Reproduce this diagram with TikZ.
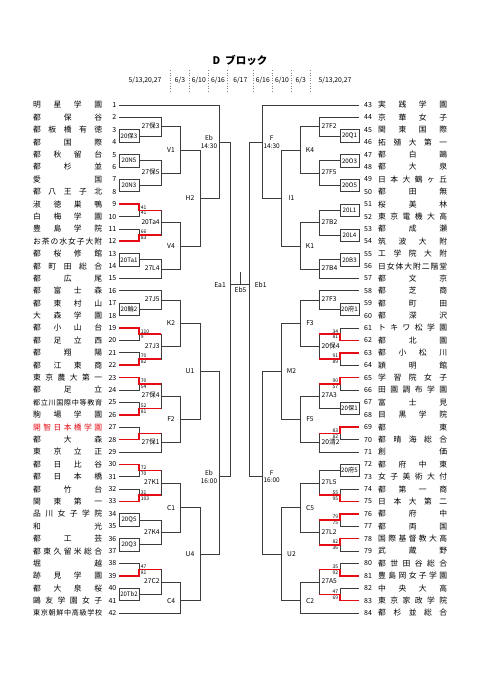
\documentclass[tikz,border=0pt]{standalone}
\usepackage{fontspec}
\usepackage{graphicx}
\setmainfont{Noto Sans CJK JP}
\definecolor{wred}{RGB}{230,12,20}
\definecolor{lgray}{RGB}{60,60,60}
\newcommand\Y[1]{105+(#1-1)*12.39}
\def\spr#1{\sprA#1\relax}
\def\sprA#1{#1\sprB}
\def\sprB#1{\ifx\relax#1\else\hfill#1\expandafter\sprB\fi}
\newsavebox\fitbox
\newcommand\fitw[2]{\sbox\fitbox{#2}\ifdim\wd\fitbox>#1\resizebox{#1}{\height}{\usebox\fitbox}\else\usebox\fitbox\fi}
\tikzset{
 ln/.style={draw=lgray, line width=0.8pt},
 win/.style={draw=wred, line width=1.6pt},
 num/.style={inner sep=0pt, font=\fontsize{7}{8}\selectfont},
 nm/.style={inner sep=0pt, font=\fontsize{7.8}{8}\selectfont},
 nsmall/.style={font=\fontsize{7.1}{8}\selectfont},
 fbox/.style={draw=lgray, line width=0.8pt, minimum width=20pt, minimum height=12.39pt, inner sep=0pt, font=\fontsize{6.2}{7}\selectfont},
 rbox/.style={fbox, minimum width=19pt},
 lab/.style={inner sep=0pt, font=\fontsize{6.7}{7}\selectfont},
 lab2/.style={inner sep=0pt, align=center, font=\fontsize{6.5}{7.8}\selectfont},
 sc/.style={inner sep=0pt, font=\fontsize{5}{5}\selectfont},
 dt/.style={inner sep=0pt, font=\fontsize{6.8}{7}\selectfont},
 sep/.style={draw=gray, dotted, line width=0.6pt},
}
\newcommand\teamL[3]{%
 \node[num, anchor=east] (nL#1) at (116.5,{\Y{#1}}) {#1};
 \node[nm, anchor=west, #3] (tL#1) at (33,{\Y{#1}}) {\hbox to 69pt{\spr{#2}}};
 \coordinate (L#1) at (119,{\Y{#1}});}
\newcommand\teamR[4]{%
 \node[num, anchor=west] (nR#2) at (364,{\Y{#1}}) {#2};
 \node[nm, anchor=west, #4] (tR#2) at (378,{\Y{#1}}) {\hbox to 69pt{\spr{#3}}};
 \coordinate (R#2) at (359,{\Y{#1}});}
\newcommand\scL[4]{%
 \coordinate (#1) at (139,{\Y{#2}});
 \node[sc, anchor=south west] (#1a) at (140.6,{\Y{#2}-0.9}) {#3};
 \node[sc, anchor=north west] (#1b) at (140.6,{\Y{#2}+0.9}) {#4};}
\newcommand\scR[4]{%
 \coordinate (#1) at (340,{\Y{#2}});
 \node[sc, anchor=south east] (#1a) at (338.4,{\Y{#2}-0.9}) {#3};
 \node[sc, anchor=north east] (#1b) at (338.4,{\Y{#2}+0.9}) {#4};}
\newcommand\mt[5]{%
 \coordinate (#1) at (#2,{\Y{#3}});
 \node[lab] (#1t) at (#5,{\Y{#3}}) {#4};}
% second-round matches: label hugging the vertical line
\newcommand\mtL[3]{%
 \coordinate (#1) at (161,{\Y{#2}});
 \node[lab, anchor=east] (#1t) at (159.8,{\Y{#2}-0.8}) {\fitw{18pt}{#3}};}
\newcommand\mtR[3]{%
 \coordinate (#1) at (319.3,{\Y{#2}});
 \node[lab, anchor=west] (#1t) at (321.5,{\Y{#2}-0.8}) {\fitw{18pt}{#3}};}
\newcommand\bxL[3]{\node[fbox] (#1) at (129,{\Y{#2}}) {\fitw{17.5pt}{#3}};}
\newcommand\bxR[3]{\node[rbox] (#1) at (349.5,{\Y{#2}}) {\fitw{17pt}{#3}};}
\newcommand\jn[3]{\draw[ln] (#1) -| (#3); \draw[ln] (#2) -| (#3);}

\begin{document}
\begin{tikzpicture}[x=1pt,y=-1pt]
\useasboundingbox (0,0) rectangle (481,680);
\fill[white] (0,0) rectangle (481,680);

% header
\node[inner sep=0pt, font=\fontsize{10.5}{11}\selectfont\bfseries] (title) at (240,60) {D\hspace{5pt}ブロック};
\node[dt] (d1) at (145,80) {5/13,20,27};
\node[dt] (d2) at (180,80) {6/3};
\node[dt] (d3) at (198.8,80) {6/10};
\node[dt] (d4) at (218,80) {6/16};
\node[dt] (d5) at (240.3,80) {6/17};
\node[dt] (d6) at (262.8,80) {6/16};
\node[dt] (d7) at (282,80) {6/10};
\node[dt] (d8) at (300.7,80) {6/3};
\node[dt] (d9) at (335,80) {5/13,20,27};
\foreach \sx in {170.7,189.3,208.3,227.7,253,272.7,291.3,310}
  \draw[sep] (\sx,70) -- (\sx,93);

% left teams
\teamL{1}{明星学園}{}
\teamL{2}{都保谷}{}
\teamL{3}{都板橋有徳}{}
\teamL{4}{都国際}{}
\teamL{5}{都秋留台}{}
\teamL{6}{都杉並}{}
\teamL{7}{愛国}{}
\teamL{8}{都八王子北}{}
\teamL{9}{淑徳巣鴨}{}
\teamL{10}{白梅学園}{}
\teamL{11}{豊島学院}{}
\teamL{12}{お茶の水女子大附}{}
\teamL{13}{都桜修館}{}
\teamL{14}{都町田総合}{}
\teamL{15}{都広尾}{}
\teamL{16}{都富士森}{}
\teamL{17}{都東村山}{}
\teamL{18}{大森学園}{}
\teamL{19}{都小山台}{}
\teamL{20}{都足立西}{}
\teamL{21}{都翔陽}{}
\teamL{22}{都江東商}{}
\teamL{23}{東京農大第一}{}
\teamL{24}{都足立}{}
\teamL{25}{都立川国際中等教育}{nsmall}
\teamL{26}{駒場学園}{}
\teamL{27}{開智日本橋学園}{text=wred}
\teamL{28}{都大森}{}
\teamL{29}{東京立正}{}
\teamL{30}{都日比谷}{}
\teamL{31}{都日本橋}{}
\teamL{32}{都竹台}{}
\teamL{33}{関東第一}{}
\teamL{34}{品川女子学院}{}
\teamL{35}{和光}{}
\teamL{36}{都工芸}{}
\teamL{37}{都東久留米総合}{}
\teamL{38}{堀越}{}
\teamL{39}{跡見学園}{}
\teamL{40}{都大泉桜}{}
\teamL{41}{鷗友学園女子}{}
\teamL{42}{東京朝鮮中高級学校}{nsmall}

% right teams
\teamR{1}{43}{実践学園}{}
\teamR{2}{44}{京華女子}{}
\teamR{3}{45}{関東国際}{}
\teamR{4}{46}{拓殖大第一}{}
\teamR{5}{47}{都白鷗}{}
\teamR{6}{48}{都大泉}{}
\teamR{7}{49}{日本大鶴ヶ丘}{}
\teamR{8}{50}{都田無}{}
\teamR{9}{51}{桜美林}{}
\teamR{10}{52}{東京電機大高}{}
\teamR{11}{53}{都成瀬}{}
\teamR{12}{54}{筑波大附}{}
\teamR{13}{55}{工学院大附}{}
\teamR{14}{56}{日女体大附二階堂}{}
\teamR{15}{57}{都文京}{}
\teamR{16}{58}{都芝商}{}
\teamR{17}{59}{都町田}{}
\teamR{18}{60}{都深沢}{}
\teamR{19}{61}{トキワ松学園}{}
\teamR{20}{62}{都北園}{}
\teamR{21}{63}{都小松川}{}
\teamR{22}{64}{穎明館}{}
\teamR{23}{65}{学習院女子}{}
\teamR{24}{66}{田園調布学園}{}
\teamR{25}{67}{富士見}{}
\teamR{26}{68}{目黒学院}{}
\teamR{27}{69}{都東}{}
\teamR{28}{70}{都晴海総合}{}
\teamR{29}{71}{創価}{}
\teamR{30}{72}{都府中東}{}
\teamR{31}{73}{女子美術大付}{}
\teamR{32}{74}{都第一商}{}
\teamR{33}{75}{日本大第二}{}
\teamR{34}{76}{都府中}{}
\teamR{35}{77}{都両国}{}
\teamR{36}{78}{国際基督教大高}{}
\teamR{37}{79}{武蔵野}{}
\teamR{38}{80}{都世田谷総合}{}
\teamR{39}{81}{豊島岡女子学園}{}
\teamR{40}{82}{中央大高}{}
\teamR{41}{83}{東京家政学院}{}
\teamR{42}{84}{都杉並総合}{}

% left first round
\bxL{lb3}{3.5}{20保3}
\bxL{lb5}{5.5}{20N5}
\bxL{lb7}{7.5}{20N3}
\bxL{lb13}{13.5}{20Ta1}
\bxL{lb17}{17.5}{20輪2}
\bxL{lb34}{34.5}{20Q5}
\bxL{lb36}{36.5}{20Q3}
\bxL{lb40}{40.5}{20Tb2}
\scL{ls9}{9.5}{41}{41}
\scL{ls11}{11.5}{66}{83}
\scL{ls19}{19.5}{110}{9}
\scL{ls21}{21.5}{70}{82}
\scL{ls23}{23.5}{70}{54}
\scL{ls25}{25.5}{52}{81}
\coordinate (ls27) at (139,{\Y{27.5}});
\scL{ls30}{30.5}{72}{70}
\scL{ls32}{32.5}{31}{103}
\scL{ls38}{38.5}{47}{81}
\jn{L9}{L10}{ls9} \jn{L11}{L12}{ls11} \jn{L19}{L20}{ls19} \jn{L21}{L22}{ls21}
\jn{L23}{L24}{ls23} \jn{L25}{L26}{ls25} \jn{L27}{L28}{ls27} \jn{L30}{L31}{ls30}
\jn{L32}{L33}{ls32} \jn{L38}{L39}{ls38}

% left second round
\mtL{lm1}{2.75}{27保3}
\mtL{lm2}{6.5}{27保5}
\mtL{lm3}{10.5}{20Ta4}
\mtL{lm4}{14.25}{27L4}
\mtL{lm5}{16.75}{27J5}
\mtL{lm6}{20.5}{27J3}
\mtL{lm7}{24.5}{27保4}
\mtL{lm8}{28.25}{27保1}
\mtL{lm9}{31.5}{27K1}
\mtL{lm10}{35.5}{27K4}
\mtL{lm11}{39.5}{27C2}
\jn{L2}{lb3.east}{lm1} \jn{lb5.east}{lb7.east}{lm2} \jn{ls9}{ls11}{lm3}
\jn{lb13.east}{L15}{lm4} \jn{L16}{lb17.east}{lm5} \jn{ls19}{ls21}{lm6}
\jn{ls23}{ls25}{lm7} \jn{ls27}{L29}{lm8} \jn{ls30}{ls32}{lm9}
\jn{lb34.east}{lb36.east}{lm10} \jn{ls38}{lb40.east}{lm11}

% left third round
\mt{LV1}{180}{4.625}{V1}{171}
\mt{LV4}{180}{12.375}{V4}{171}
\mt{LK2}{180}{18.625}{K2}{171}
\mt{LF2}{180}{26.375}{F2}{171}
\mt{LC1}{180}{33.5}{C1}{171}
\mt{LC4}{180}{41}{C4}{171}
\jn{lm1}{lm2}{LV1} \jn{lm3}{lm4}{LV4} \jn{lm5}{lm6}{LK2}
\jn{lm7}{lm8}{LF2} \jn{lm9}{lm10}{LC1} \jn{lm11}{L42}{LC4}

% left fourth round
\mt{LH2}{200}{8.5}{H2}{190}
\mt{LU1}{200}{22.5}{U1}{190}
\mt{LU4}{200}{37.25}{U4}{190}
\jn{LV1}{LV4}{LH2} \jn{LK2}{LF2}{LU1} \jn{LC1}{LC4}{LU4}

% left fifth round
\coordinate (LEbA) at (219,{\Y{4}});
\node[lab2] (LEbAt) at (209,{\Y{4}}) {Eb\\14:30};
\coordinate (LEbB) at (219,{\Y{31}});
\node[lab2] (LEbBt) at (209,{\Y{31}}) {Eb\\16:00};
\jn{L1}{LH2}{LEbA} \jn{LU1}{LU4}{LEbB}

% right first round
\bxR{rb45}{3.5}{20Q1}
\bxR{rb47}{5.5}{20O3}
\bxR{rb49}{7.5}{20O5}
\bxR{rb51}{9.5}{20L1}
\bxR{rb53}{11.5}{20L4}
\bxR{rb55}{13.5}{20B3}
\bxR{rb59}{17.5}{20府1}
\bxR{rb67}{25.5}{20保1}
\bxR{rb72}{30.5}{20府5}
\scR{rs61}{19.5}{34}{81}
\scR{rs63}{21.5}{91}{89}
\scR{rs65}{23.5}{90}{57}
\scR{rs69}{27.5}{83}{82}
\scR{rs74}{32.5}{55}{95}
\scR{rs76}{34.5}{79}{75}
\scR{rs78}{36.5}{82}{36}
\scR{rs80}{38.5}{35}{92}
\scR{rs82}{40.5}{47}{69}
\jn{R61}{R62}{rs61} \jn{R63}{R64}{rs63} \jn{R65}{R66}{rs65} \jn{R69}{R70}{rs69}
\jn{R74}{R75}{rs74} \jn{R76}{R77}{rs76} \jn{R78}{R79}{rs78} \jn{R80}{R81}{rs80}
\jn{R82}{R83}{rs82}

% right second round
\mtR{rm1}{2.75}{27F2}
\mtR{rm2}{6.5}{27F5}
\mtR{rm3}{10.5}{27B2}
\mtR{rm4}{14.25}{27B4}
\mtR{rm5}{16.75}{27F3}
\mtR{rm6}{20.5}{20保4}
\mtR{rm7}{24.5}{27A3}
\mtR{rm8}{28.25}{20清2}
\mtR{rm9}{31.5}{27L5}
\mtR{rm10}{35.5}{27L2}
\mtR{rm11}{39.5}{27A5}
\jn{R44}{rb45.west}{rm1} \jn{rb47.west}{rb49.west}{rm2} \jn{rb51.west}{rb53.west}{rm3}
\jn{rb55.west}{R57}{rm4} \jn{R58}{rb59.west}{rm5} \jn{rs61}{rs63}{rm6}
\jn{rs65}{rb67.west}{rm7} \jn{rs69}{R71}{rm8} \jn{rb72.west}{rs74}{rm9}
\jn{rs76}{rs78}{rm10} \jn{rs80}{rs82}{rm11}

% right third round
\mt{RK4}{300}{4.625}{K4}{310}
\mt{RK1}{300}{12.375}{K1}{310}
\mt{RF3}{300}{18.625}{F3}{310}
\mt{RF5}{300}{26.375}{F5}{310}
\mt{RC5}{300}{33.5}{C5}{310}
\mt{RC2}{300}{41}{C2}{310}
\jn{rm1}{rm2}{RK4} \jn{rm3}{rm4}{RK1} \jn{rm5}{rm6}{RF3}
\jn{rm7}{rm8}{RF5} \jn{rm9}{rm10}{RC5} \jn{rm11}{R84}{RC2}

% right fourth round
\mt{RI1}{281.7}{8.5}{I1}{291.5}
\mt{RM2}{281.7}{22.5}{M2}{291.5}
\mt{RU2}{281.7}{37.25}{U2}{291.5}
\jn{RK4}{RK1}{RI1} \jn{RF3}{RF5}{RM2} \jn{RC5}{RC2}{RU2}

% right fifth round
\coordinate (RFA) at (262.3,{\Y{4}});
\node[lab2] (RFAt) at (271.7,{\Y{4}}) {F\\14:30};
\coordinate (RFB) at (262.3,{\Y{31}});
\node[lab2] (RFBt) at (271.7,{\Y{31}}) {F\\16:00};
\jn{R43}{RI1}{RFA} \jn{RM2}{RU2}{RFB}

% centre
\mt{Ea1}{230.7}{15.5}{Ea1}{220}
\mt{Eb1}{249.3}{15.5}{Eb1}{260.7}
\coordinate (Fin) at (240,{\Y{15.5}});
\coordinate (FinTop) at (240,{\Y{14.5}});
\node[lab, anchor=north] (Eb5t) at (240.5,{\Y{15.5}+2.2}) {Eb5};
\jn{LEbA}{LEbB}{Ea1} \jn{RFA}{RFB}{Eb1}
\draw[ln] (Ea1) -- (Fin) -- (Eb1);
\draw[ln] (Fin) -- (FinTop);

% winners (red)
\draw[win] (L9) -| (ls9) -- (ls9 -| lm3);
\draw[win] (L12) -| (ls11) -- (ls11 -| lm3);
\draw[win] (L19) -| (ls19) -- (ls19 -| lm6);
\draw[win] (L22) -| (ls21) -- (ls21 -| lm6);
\draw[win] (L23) -| (ls23) -- (ls23 -| lm7);
\draw[win] (L26) -| (ls25) -- (ls25 -| lm7);
\draw[win] (L28) -| (ls27) -- (ls27 -| lm8);
\draw[win] (L30) -| (ls30) -- (ls30 -| lm9);
\draw[win] (L33) -| (ls32) -- (ls32 -| lm9);
\draw[win] (L39) -| (ls38) -- (ls38 -| lm11);
\draw[win] (R62) -| (rs61) -- (rs61 -| rm6);
\draw[win] (R63) -| (rs63) -- (rs63 -| rm6);
\draw[win] (R65) -| (rs65) -- (rs65 -| rm7);
\draw[win] (R69) -| (rs69) -- (rs69 -| rm8);
\draw[win] (R75) -| (rs74) -- (rs74 -| rm9);
\draw[win] (R76) -| (rs76) -- (rs76 -| rm10);
\draw[win] (R78) -| (rs78) -- (rs78 -| rm10);
\draw[win] (R81) -| (rs80) -- (rs80 -| rm11);
\draw[win] (R83) -| (rs82) -- (rs82 -| rm11);
\end{tikzpicture}
\end{document}
